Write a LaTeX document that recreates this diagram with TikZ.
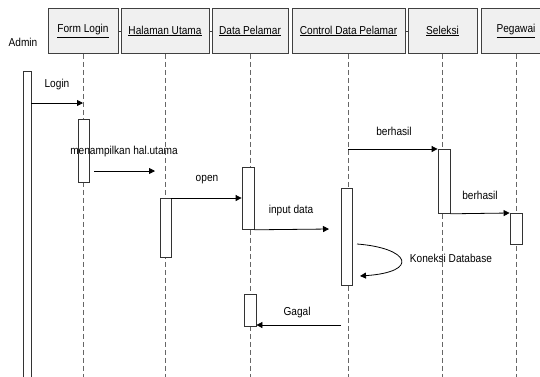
\documentclass[tikz,border=0pt]{standalone}
\usepackage{fontspec}
\setmainfont{Liberation Sans}[FakeStretch=0.88]
\usetikzlibrary{arrows.meta,calc}
\begin{document}
\begin{tikzpicture}[x=1pt,y=-1pt,
  hdr/.style={draw=black!75, fill=black!6, line width=0.8pt, minimum height=45pt, inner sep=0pt, font=\fontsize{11.5}{13}\selectfont},
  act/.style={draw=black!80, fill=white, line width=0.8pt, inner sep=0pt},
  life/.style={draw=black!60, line width=0.7pt, dash pattern=on 5pt off 3pt},
  msg/.style={draw=black, line width=0.8pt, -{Triangle[length=6pt,width=6pt]}},
  lbl/.style={font=\fontsize{11.5}{13}\selectfont, inner sep=0pt},
  tick/.style={draw=black!75, line width=0.8pt}]
\useasboundingbox (0,0) rectangle (540,376);
\clip (0,0) rectangle (540,376);
\fill[white] (0,0) rectangle (540,376);
% headers
\node[lbl] (admin) at (23,42) {Admin};
\node[hdr, minimum width=70pt] (hfl) at (83,31) {\underline{Form Login}};
\node[hdr, minimum width=88pt] (hhu) at (165,31) {\underline{Halaman Utama}};
\node[hdr, minimum width=76pt] (hdp) at (250,31) {\underline{Data Pelamar}};
\node[hdr, minimum width=113pt] (hcd) at (348.5,31) {\underline{Control Data Pelamar}};
\node[hdr, minimum width=69pt] (hse) at (442.5,31) {\underline{Seleksi}};
\node[hdr, minimum width=70pt] (hpe) at (516,31) {\underline{Pegawai}};
\draw[tick] (hfl.east) -- (hhu.west);
\draw[tick] (hhu.east) -- (hdp.west);
\draw[tick] (hcd.east) -- (hse.west);
% lifelines
\foreach \n/\e in {hfl/efl,hhu/ehu,hdp/edp,hcd/ecd,hse/ese,hpe/epe}{
  \coordinate (\e) at ($(\n.south)+(0,330)$);
  \draw[life] (\n.south) -- (\e);
}
% activations
\node[act, minimum width=8pt, minimum height=320pt, anchor=north] (adm) at (27,71) {};
\node[act, minimum width=11pt, minimum height=63pt, anchor=north] (afl) at (83.5,119) {};
\node[act, minimum width=11pt, minimum height=59pt, anchor=north] (ahu) at (165.5,198) {};
\node[act, minimum width=12pt, minimum height=62pt, anchor=north] (adp1) at (248,167) {};
\node[act, minimum width=11pt, minimum height=97pt, anchor=north] (acd) at (346.5,188) {};
\node[act, minimum width=12pt, minimum height=64pt, anchor=north] (ase) at (444,149) {};
\node[act, minimum width=12pt, minimum height=31pt, anchor=north] (ape) at (516,213) {};
\node[act, minimum width=12pt, minimum height=32pt, anchor=north] (adp2) at (250,294) {};
% messages
\coordinate (loginEnd) at (83,103);
\draw[msg] (loginEnd -| adm.east) -- (loginEnd);
\node[lbl] (tlogin) at (57,85) {Login};
\coordinate (m1a) at (94,171);
\coordinate (m1b) at (155,171);
\draw[msg] (m1a) -- (m1b);
\node[lbl] (tmenu) at (124,152) {menampilkan hal.utama};
\draw[msg] (ahu.north east) -- (ahu.north east -| adp1.west);
\node[lbl] (topen) at (207,180) {open};
\coordinate (inEnd) at (329,229);
\draw[msg] (adp1.south east) -- (inEnd);
\node[lbl] (tinput) at (291,211) {input data};
\coordinate (b1a) at (348,149);
\draw[msg] (b1a) -- (ase.north west);
\node[lbl] (tb1) at (394,131) {berhasil};
\draw[msg] (ase.south east) -- (ape.north west);
\node[lbl] (tb2) at (480,195) {berhasil};
\coordinate (ka) at (357,244);
\coordinate (kb) at (360,276);
\draw[msg] (ka) .. controls (410,248) and (420,272) .. (kb);
\node[lbl] (tkon) at (451,258) {Koneksi Database};
\coordinate (ga) at (341,325);
\draw[msg] (ga) -- (ga -| adp2.east);
\node[lbl] (tgagal) at (297,313) {Gagal};
\end{tikzpicture}
\end{document}
